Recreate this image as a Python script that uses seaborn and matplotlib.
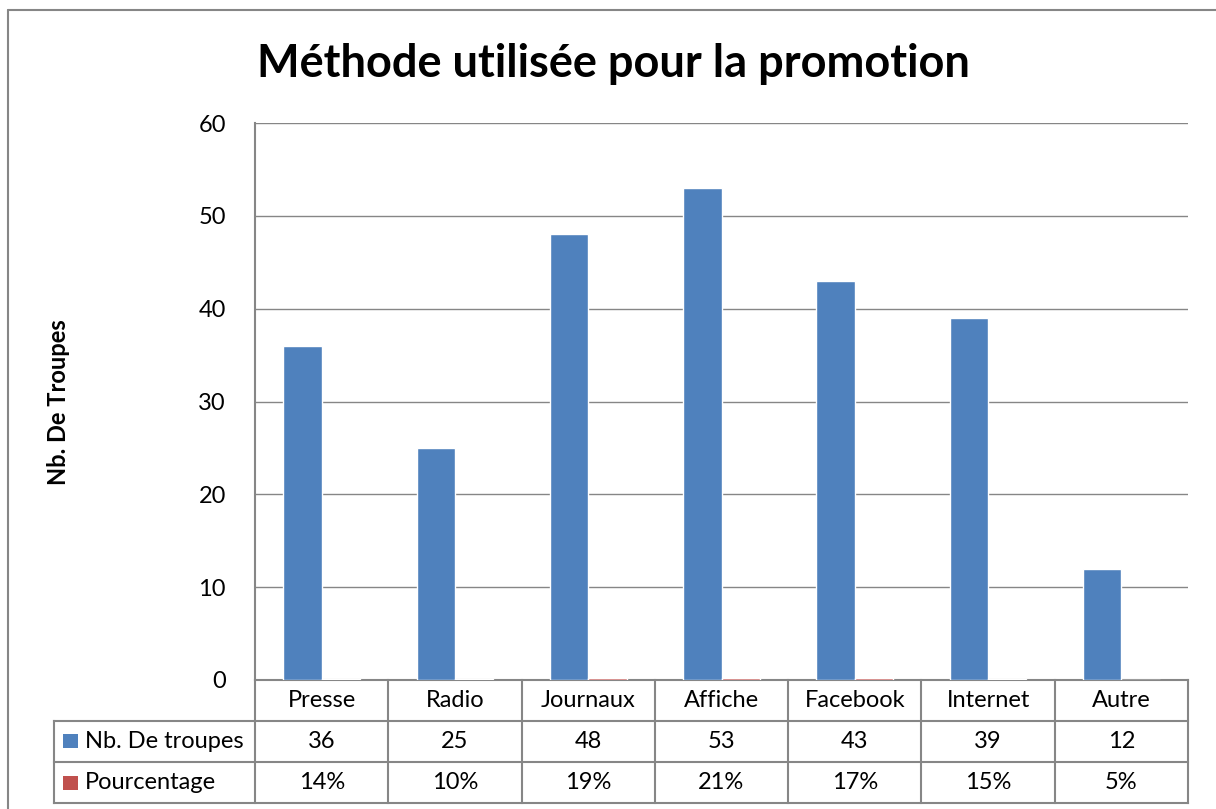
import matplotlib
matplotlib.use("Agg")
import matplotlib.pyplot as plt
import seaborn as sns
import pandas as pd
from matplotlib.patches import Rectangle
from matplotlib.lines import Line2D

# ---- data ----
categories = ["Presse", "Radio", "Journaux", "Affiche", "Facebook", "Internet", "Autre"]
nb_troupes = [36, 25, 48, 53, 43, 39, 12]
pourcentage = [0.14, 0.10, 0.19, 0.21, 0.17, 0.15, 0.05]
series_names = ["Nb. De troupes", "Pourcentage"]
y_ticks = [0, 10, 20, 30, 40, 50, 60]
title = "Méthode utilisée pour la promotion"
y_label = "Nb. De Troupes"

BLUE = "#4F81BD"
RED = "#C0504D"
GRID = "#868686"

sns.set_theme(style="white")
plt.rcParams['font.family'] = ['Lato', 'DejaVu Sans']
plt.rcParams['text.color'] = 'black'
plt.rcParams['ytick.color'] = 'black'

W, H = 1216, 809
fig = plt.figure(figsize=(W / 100, H / 100), dpi=100)
fig.patch.set_facecolor("white")


def fx(px):
    return px / W


def fy(py):
    return 1 - py / H


FS = 17
L, R, T, B = 255, 1188, 123, 680
ax = fig.add_axes([fx(L), fy(B), fx(R) - fx(L), fy(T) - fy(B)])

df = pd.DataFrame({
    "cat": categories * 2,
    "val": nb_troupes + pourcentage,
    "serie": [series_names[0]] * len(categories) + [series_names[1]] * len(categories),
})
sns.barplot(data=df, x="cat", y="val", hue="serie", palette=[BLUE, RED],
            width=0.576, gap=0, ax=ax, legend=False, saturation=1, errorbar=None)
for p in ax.patches:
    p.set_zorder(3)

ax.set_xlim(-0.5, len(categories) - 0.5)
ax.set_ylim(0, 60)
ax.set_yticks(y_ticks)
ax.set_xticks([])
ax.set_xlabel("")
ax.set_ylabel("")
ax.yaxis.grid(True, color=GRID, lw=1.0)
ax.set_axisbelow(True)
for s in ["top", "right"]:
    ax.spines[s].set_visible(False)
for s in ["left", "bottom"]:
    ax.spines[s].set_color(GRID)
    ax.spines[s].set_linewidth(1.5)
    ax.spines[s].set_zorder(2.6)
ax.tick_params(axis='y', length=0, pad=21, labelsize=FS, labelcolor="black")

# title and y label
fig.text(fx(613), fy(64), title, fontsize=32.5, fontweight="bold", ha="center", va="center",
         color="black")
fig.text(fx(58), fy(402), y_label, fontsize=17, fontweight="bold", rotation=90,
         ha="center", va="center", color="black")

# ---- data table ----
TL, TB = 54, 803
tax = fig.add_axes([fx(TL), fy(TB), fx(R) - fx(TL), fy(B) - fy(TB)])
n = len(categories)
tax.set_xlim(-0.5 - (L - TL) * n / (R - L), n - 0.5)
tax.set_ylim(0, 3)
tax.axis("off")
xl = tax.get_xlim()[0]
lk = dict(color=GRID, lw=1.5, clip_on=False, solid_capstyle="projecting")
# horizontal lines (row boundaries at 762 and 721 px)
row_lines = [0, (TB - 762) / (TB - B) * 3, (TB - 721) / (TB - B) * 3]
for yv in row_lines:
    tax.add_line(Line2D([xl, n - 0.5], [yv, yv], **lk))
# vertical lines
tax.add_line(Line2D([xl, xl], [0, row_lines[2]], **lk))
for i in range(n + 1):
    tax.add_line(Line2D([i - 0.5, i - 0.5], [0, 3], **lk))

yc_head = (row_lines[2] + 3) / 2
yc_nb = (row_lines[1] + row_lines[2]) / 2
yc_pc = (row_lines[0] + row_lines[1]) / 2
for i, c in enumerate(categories):
    tax.text(i, yc_head, c, ha="center", va="center", fontsize=FS)
    tax.text(i, yc_nb, f"{nb_troupes[i]}", ha="center", va="center", fontsize=FS)
    tax.text(i, yc_pc, f"{int(round(pourcentage[i] * 100))}%", ha="center", va="center", fontsize=FS)

# legend keys
fig.patches.append(Rectangle((fx(63), fy(748)), 15 / W, 14 / H, transform=fig.transFigure,
                             facecolor=BLUE, edgecolor="none"))
fig.patches.append(Rectangle((fx(63), fy(790)), 15 / W, 14 / H, transform=fig.transFigure,
                             facecolor=RED, edgecolor="none"))
tax.text(xl + 31 * n / (R - L), yc_nb, series_names[0], ha="left", va="center", fontsize=FS)
tax.text(xl + 31 * n / (R - L), yc_pc, series_names[1], ha="left", va="center", fontsize=FS)

# outer chart border
fig.add_artist(Line2D([fx(8), fx(8)], [fy(10), 0], transform=fig.transFigure, color=GRID, lw=1.5))
fig.add_artist(Line2D([fx(8), 1], [fy(10), fy(10)], transform=fig.transFigure, color=GRID, lw=1.5))

fig.savefig("out.png", dpi=100, facecolor="white")
